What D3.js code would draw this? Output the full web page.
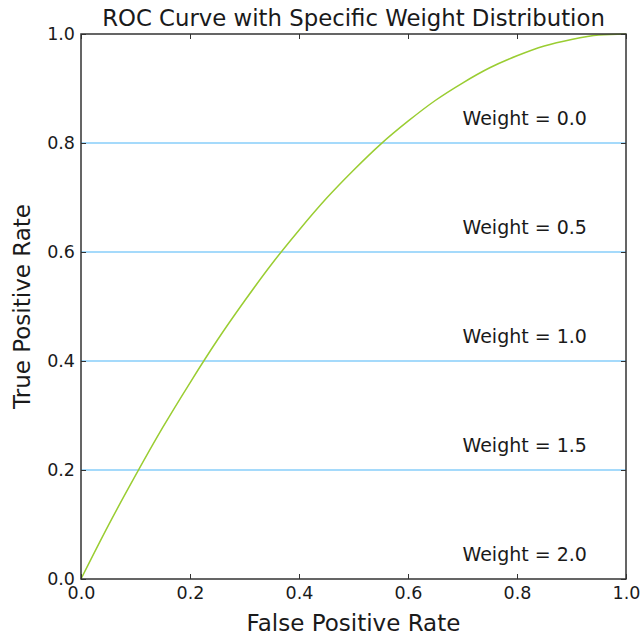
<!DOCTYPE html>
<html>
<head>
<meta charset="utf-8">
<script src="https://cdn.jsdelivr.net/npm/d3@7"></script>
<style>
  body { margin: 0; background: #fff; }
  text { font-family: "DejaVu Sans", sans-serif; fill: #1a1a1a; }
</style>
</head>
<body>
<svg id="chart"></svg>
<script>
// data
var fpr = [0, 0.05, 0.1, 0.15, 0.2, 0.25, 0.3, 0.35, 0.4, 0.45, 0.5,
           0.55, 0.6, 0.65, 0.7, 0.75, 0.8, 0.85, 0.9, 0.95, 1.0];
var tpr = [0, 0.098, 0.19, 0.278, 0.36, 0.438, 0.51, 0.578, 0.64, 0.698, 0.75,
           0.798, 0.84, 0.878, 0.91, 0.938, 0.96, 0.978, 0.99, 0.998, 1.0];
var refLines = [0.2, 0.4, 0.6, 0.8];
var weightLabels = ["Weight = 0.0", "Weight = 0.5", "Weight = 1.0", "Weight = 1.5", "Weight = 2.0"];
var weightY = [0.85, 0.65, 0.45, 0.25, 0.05];
var ticks = [0, 0.2, 0.4, 0.6, 0.8, 1.0];

var w = 643, h = 639;
var pLeft = 81, pRight = 626, pTop = 34, pBottom = 579;

var svg = d3.select("#chart").attr("width", w).attr("height", h);

var x = d3.scaleLinear().domain([0, 1]).range([pLeft, pRight]);
var y = d3.scaleLinear().domain([0, 1]).range([pBottom, pTop]);

// reference lines
svg.selectAll("line.ref")
    .data(refLines)
    .enter()
    .append("line")
    .attr("class", "ref")
    .attr("x1", pLeft).attr("x2", pRight)
    .attr("y1", function (d) { return y(d); })
    .attr("y2", function (d) { return y(d); })
    .attr("stroke", "#87cefa")
    .attr("stroke-width", 1.5);

// curve
var line = d3.line()
    .x(function (d, i) { return x(fpr[i]); })
    .y(function (d) { return y(d); })
    .curve(d3.curveMonotoneX);

svg.append("path")
    .datum(tpr)
    .attr("d", line)
    .attr("fill", "none")
    .attr("stroke", "#9acd32")
    .attr("stroke-width", 1.5);

// weight labels
svg.selectAll("text.weight")
    .data(weightLabels)
    .enter()
    .append("text")
    .attr("class", "weight")
    .attr("x", x(0.7))
    .attr("y", function (d, i) { return y(weightY[i]) + 9; })
    .attr("font-size", "19px")
    .text(function (d) { return d; });

// axes, ticks inward on all sides
var tickLen = 5;
svg.append("g")
    .attr("transform", "translate(0," + pBottom + ")")
    .call(d3.axisBottom(x).tickValues(ticks).tickFormat(d3.format(".1f")).tickSizeInner(-tickLen).tickSizeOuter(0).tickPadding(8));
svg.append("g")
    .attr("transform", "translate(" + pLeft + ",0)")
    .call(d3.axisLeft(y).tickValues(ticks).tickFormat(d3.format(".1f")).tickSizeInner(-tickLen).tickSizeOuter(0).tickPadding(6));
svg.append("g")
    .attr("transform", "translate(0," + pTop + ")")
    .call(d3.axisTop(x).tickValues(ticks).tickFormat("").tickSizeInner(-tickLen).tickSizeOuter(0));
svg.append("g")
    .attr("transform", "translate(" + pRight + ",0)")
    .call(d3.axisRight(y).tickValues(ticks).tickFormat("").tickSizeInner(-tickLen).tickSizeOuter(0));

svg.selectAll(".domain").remove();
svg.selectAll(".tick line").attr("stroke", "#333");
svg.selectAll(".tick text").attr("font-size", "17.5px").attr("font-family", "DejaVu Sans").attr("fill", "#1a1a1a");

// frame
svg.append("rect")
    .attr("x", pLeft).attr("y", pTop)
    .attr("width", pRight - pLeft).attr("height", pBottom - pTop)
    .attr("fill", "none")
    .attr("stroke", "#333")
    .attr("stroke-width", 1.5);

// title and axis labels
svg.append("text")
    .attr("x", (pLeft + pRight) / 2).attr("y", 26)
    .attr("text-anchor", "middle")
    .attr("font-size", "22.8px")
    .text("ROC Curve with Specific Weight Distribution");

svg.append("text")
    .attr("x", (pLeft + pRight) / 2).attr("y", 631)
    .attr("text-anchor", "middle")
    .attr("font-size", "23px")
    .text("False Positive Rate");

svg.append("text")
    .attr("transform", "translate(30," + (pTop + pBottom) / 2 + ") rotate(-90)")
    .attr("text-anchor", "middle")
    .attr("font-size", "23px")
    .text("True Positive Rate");
</script>
</body>
</html>
